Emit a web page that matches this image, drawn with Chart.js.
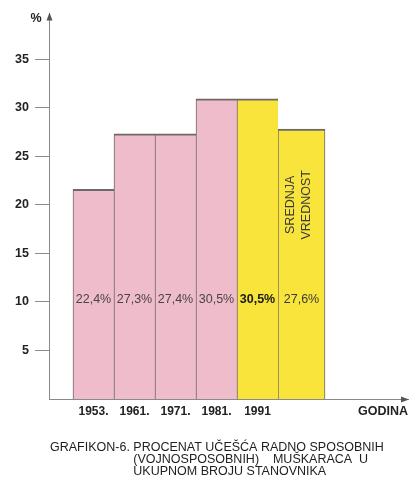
<!DOCTYPE html>
<html><head><meta charset="utf-8">
<script src="https://cdn.jsdelivr.net/npm/chart.js@4"></script>
<style>html,body{margin:0;padding:0;background:#fff}canvas{display:block}</style>
</head><body>
<canvas id="c" width="410" height="483"></canvas>
<script>
// ---- data ----
const YEARS = ['1953.', '1961.', '1971.', '1981.', '1991'];
const SHARE = [21.6, 27.3, 27.3, 30.9, 30.9];
const SHARE_LABELS = ['22,4%', '27,3%', '27,4%', '30,5%', '30,5%'];
const MEAN_VALUE = 27.8;
const MEAN_LABEL = '27,6%';
const MEAN_TEXT = ['SREDNJA', 'VREDNOST'];
const Y_TICKS = [5, 10, 15, 20, 25, 30, 35];
const TITLE_HEAD = 'GRAFIKON-6. ';
const TITLE_LINES = ['PROCENAT UČEŠĆA RADNO SPOSOBNIH', '(VOJNOSPOSOBNIH)    MUŠKARACA  U', 'UKUPNOM BROJU STANOVNIKA'];
const X_TITLE = 'GODINA';
const Y_TITLE = '%';

// ---- style / layout ----
const FONT = '"Liberation Sans", Arial, Helvetica, sans-serif';
const PINK = '#eebccb';
const YELLOW = '#f8e43a';
const AXIS = '#8a8a8a';
const BAR_W = 41, MEAN_W = 47;       // px
const PLOT_LEFT = 49, PLOT_RIGHT = 408, FIRST_CENTER = 93.5;
const X_MIN = 1 - (FIRST_CENTER - PLOT_LEFT) / BAR_W;
const X_MAX = 1 + (PLOT_RIGHT - FIRST_CENTER) / BAR_W;
const MEAN_POS = YEARS.length + (BAR_W / 2 + MEAN_W / 2) / BAR_W;
const Y_MAX = 39.7;
const LABEL_LEVEL = 10.2;
const MEAN_TEXT_LEVEL = 20;

const deco = {
  id: 'deco',
  afterDatasetsDraw(chart) {
    const {ctx, scales: {y}} = chart;
    ctx.save();
    ctx.textAlign = 'center';
    ctx.textBaseline = 'middle';
    const ly = y.getPixelForValue(LABEL_LEVEL);
    chart.getDatasetMeta(0).data.forEach((bar, i) => {
      const last = i === YEARS.length - 1;
      ctx.font = (last ? 'bold ' : '') + '12.5px ' + FONT;
      ctx.fillStyle = last ? '#1a1a1a' : '#4a4444';
      ctx.fillText(SHARE_LABELS[i], bar.x, ly);
    });
    const mb = chart.getDatasetMeta(1).data[0];
    ctx.font = '12.5px ' + FONT;
    ctx.fillStyle = '#3a3a3a';
    ctx.fillText(MEAN_LABEL, mb.x, ly);
    const ty = y.getPixelForValue(MEAN_TEXT_LEVEL);
    MEAN_TEXT.forEach((t, k) => {
      ctx.save();
      ctx.translate(mb.x + (k === 0 ? -11 : 5), ty);
      ctx.rotate(-Math.PI / 2);
      ctx.fillText(t, 0, 0);
      ctx.restore();
    });
    ctx.restore();
  },
  afterDraw(chart) {
    const {ctx, chartArea: a} = chart;
    ctx.save();
    ctx.fillStyle = '#555';
    // y arrow
    const ax = a.left + 0.5;
    ctx.beginPath();
    ctx.moveTo(ax, a.top - 1); ctx.lineTo(ax - 3, a.top + 7); ctx.lineTo(ax + 3, a.top + 7); ctx.closePath(); ctx.fill();
    // x arrow
    const ay = a.bottom + 0.5;
    ctx.beginPath();
    ctx.moveTo(a.right + 1, ay); ctx.lineTo(a.right - 7, ay - 3); ctx.lineTo(a.right - 7, ay + 3); ctx.closePath(); ctx.fill();
    // axis titles
    ctx.fillStyle = '#222';
    ctx.font = 'bold 12.5px ' + FONT;
    ctx.textAlign = 'center'; ctx.textBaseline = 'middle';
    ctx.fillText(Y_TITLE, a.left - 13, a.top + 5);
    ctx.textAlign = 'right';
    ctx.fillText(X_TITLE, a.right, a.bottom + 13);
    // caption
    ctx.font = '12.5px ' + FONT;
    ctx.textAlign = 'left'; ctx.textBaseline = 'alphabetic';
    ctx.fillStyle = '#1e1e1e';
    const x0 = 50;
    ctx.fillText(TITLE_HEAD, x0, 450.5);
    const x1 = x0 + ctx.measureText(TITLE_HEAD).width;
    TITLE_LINES.forEach((t, k) => ctx.fillText(t, x1, 450.5 + 12 * k));
    ctx.restore();
  }
};

const barCommon = {
  borderColor: '#6e6868',
  borderSkipped: false,
  grouped: false,
  barPercentage: 1,
  categoryPercentage: 1
};

new Chart(document.getElementById('c'), {
  type: 'bar',
  data: {
    datasets: [{
      ...barCommon,
      data: SHARE.map((v, i) => ({x: i + 1, y: v})),
      backgroundColor: YEARS.map((_, i) => i === YEARS.length - 1 ? YELLOW : PINK),
      borderWidth: {left: 1, right: 0, top: 2, bottom: 0},
      barThickness: BAR_W
    }, {
      ...barCommon,
      data: [{x: MEAN_POS, y: MEAN_VALUE}],
      backgroundColor: YELLOW,
      borderWidth: {left: 1, right: 1, top: 2, bottom: 0},
      barThickness: MEAN_W
    }]
  },
  options: {
    responsive: false,
    devicePixelRatio: 1,
    animation: false,
    layout: {padding: {top: 11, right: 410 - PLOT_RIGHT, left: 0, bottom: 0}},
    plugins: {legend: {display: false}, tooltip: {enabled: false}, title: {display: false}},
    scales: {
      x: {
        type: 'linear',
        offset: false,
        min: X_MIN, max: X_MAX,
        afterBuildTicks: s => { s.ticks = YEARS.map((_, i) => ({value: i + 1})); },
        afterFit: s => { s.height = 84; },
        grid: {display: false, drawTicks: false},
        border: {display: true, color: AXIS, width: 1},
        ticks: {
          autoSkip: false, maxRotation: 0, padding: 5,
          color: '#222', font: {family: FONT, size: 12, weight: 'bold'},
          callback: v => YEARS[v - 1] ?? ''
        }
      },
      y: {
        min: 0, max: Y_MAX,
        afterBuildTicks: s => { s.ticks = Y_TICKS.map(v => ({value: v})); },
        afterFit: s => { s.width = PLOT_LEFT; },
        grid: {drawOnChartArea: false, drawTicks: true, tickLength: 14, color: AXIS, lineWidth: 1},
        border: {display: true, color: AXIS, width: 1},
        ticks: {padding: 6, color: '#222', font: {family: FONT, size: 12.5, weight: 'bold'}}
      }
    }
  },
  plugins: [deco]
});
</script>
</body></html>
